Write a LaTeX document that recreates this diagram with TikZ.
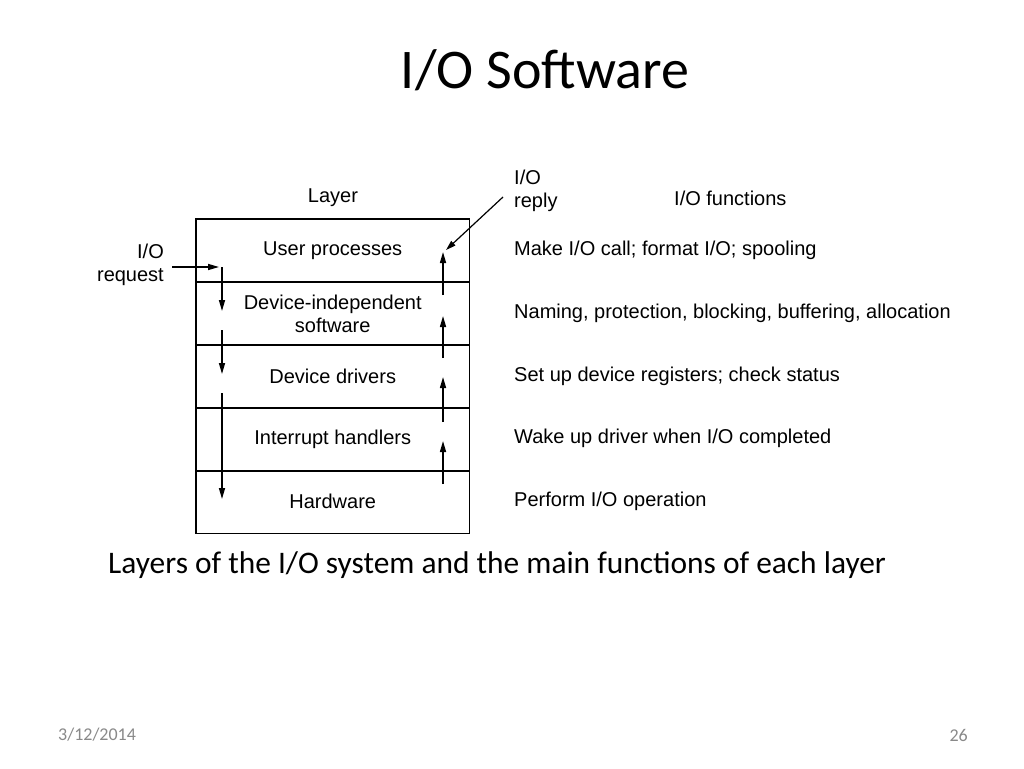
\documentclass[tikz,border=0pt]{standalone}
\usepackage{fontspec}
\setmainfont{Liberation Sans}
\newfontfamily\calib{Carlito}
\usetikzlibrary{arrows.meta}
\definecolor{footgray}{RGB}{137,137,137}
\begin{document}
\begin{tikzpicture}[x=1pt,y=-1pt,
  lbl/.style={font=\fontsize{20}{23}\selectfont, inner sep=0pt, align=center},
  fn/.style={font=\fontsize{20}{23}\selectfont, inner sep=0pt, anchor=west},
  row/.style={minimum width=273pt, minimum height=62.8pt, inner sep=0pt, anchor=north west, font=\fontsize{20}{23}\selectfont, align=center},
  frame/.style={line width=1.8pt},
  flow/.style={line width=1.5pt, -{Stealth[length=11pt,width=6pt,inset=0pt]}},
]
\useasboundingbox (0,0) rectangle (1024,768);
\fill[white] (0,0) rectangle (1024,768);

% title
\node[font=\calib\fontsize{56}{60}\selectfont, inner sep=0pt] (title) at (545,70) {I/O Software};

% headers
\node[lbl] (layerhd) at (333,198) {Layer};
\node[lbl, align=left, anchor=west] (reply) at (514,191) {I/O\\reply};
\node[fn] (funchd) at (674,198) {I/O functions};
\node[lbl, align=right, anchor=east] (request) at (164,265) {I/O\\request};

% rows
\node[row] (r1) at (196,219) {User processes};
\node[row] (r2) at (196,281.8) {Device-independent\\software};
\node[row] (r3) at (196,344.6) {Device drivers};
\node[row] (r4) at (196,407.4) {Interrupt handlers};
\node[row] (r5) at (196,470.2) {Hardware};
\draw[frame] (r1.north west) rectangle (r5.south east);
\draw[frame] (r1.south west) -- (r1.south east);
\draw[frame] (r2.south west) -- (r2.south east);
\draw[frame] (r3.south west) -- (r3.south east);
\draw[frame] (r4.south west) -- (r4.south east);

% functions
\node[fn] (f1) at (514,250) {Make I/O call; format I/O; spooling};
\node[fn] (f2) at (514,313) {Naming, protection, blocking, buffering, allocation};
\node[fn] (f3) at (514,376) {Set up device registers; check status};
\node[fn] (f4) at (514,438) {Wake up driver when I/O completed};
\node[fn] (f5) at (514,501) {Perform I/O operation};

% arrow coordinates
\coordinate (reqS) at (172,267);
\coordinate (reqE) at (219,267);
\coordinate (repS) at (503,197);
\coordinate (repE) at (446,250);
\coordinate (d1s) at (222,267); \coordinate (d1e) at (222,311);
\coordinate (d2s) at (222,330); \coordinate (d2e) at (222,374);
\coordinate (d3s) at (222,393); \coordinate (d3e) at (222,499);
\coordinate (u1s) at (443,484); \coordinate (u1e) at (443,441);
\coordinate (u2s) at (443,422); \coordinate (u2e) at (443,377);
\coordinate (u3s) at (443,358); \coordinate (u3e) at (443,316);
\coordinate (u4s) at (443,295); \coordinate (u4e) at (443,252);

\draw[flow] (reqS) -- (reqE);
\draw[line width=1.2pt, -{Stealth[length=10pt,width=6pt,inset=0pt]}] (repS) -- (repE);
\draw[flow] (d1s) -- (d1e);
\draw[flow] (d2s) -- (d2e);
\draw[flow] (d3s) -- (d3e);
\draw[flow] (u1s) -- (u1e);
\draw[flow] (u2s) -- (u2e);
\draw[flow] (u3s) -- (u3e);
\draw[flow] (u4s) -- (u4e);

% caption
\node[font=\calib\fontsize{31.4}{36}\selectfont, inner sep=0pt, anchor=west] (cap) at (108,565) {Layers of the I/O system and the main functions of each layer};

% footer
\node[font=\calib\fontsize{18}{20}\selectfont, text=footgray, inner sep=0pt, anchor=west] (date) at (58,735) {3/12/2014};
\node[font=\calib\fontsize{18}{20}\selectfont, text=footgray, inner sep=0pt, anchor=east] (page) at (968,735) {26};
\end{tikzpicture}
\end{document}
